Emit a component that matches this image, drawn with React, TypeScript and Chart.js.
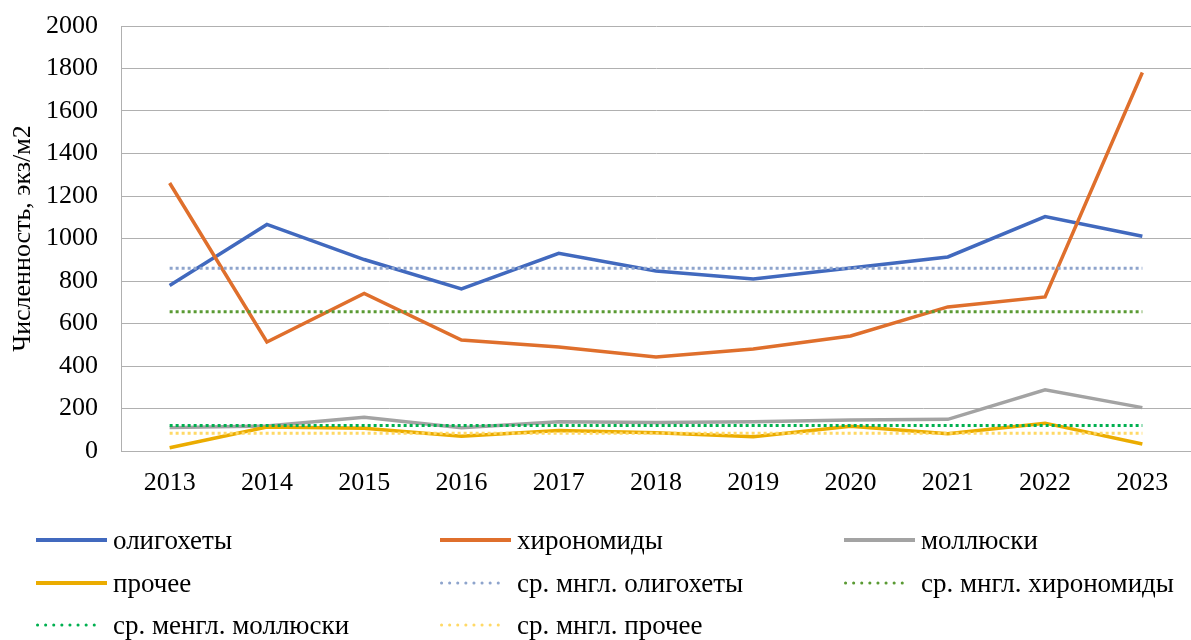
import React, { useEffect, useRef } from "react";
import { Chart, registerables } from "chart.js";

Chart.register(...registerables);

const years = ["2013", "2014", "2015", "2016", "2017", "2018", "2019", "2020", "2021", "2022", "2023"];
const oligochaetes = [779, 1066, 901, 763, 930, 847, 809, 861, 913, 1103, 1011];
const chironomids = [1261, 513, 742, 522, 489, 442, 480, 541, 678, 725, 1781];
const molluscs = [110, 118, 159, 110, 138, 134, 138, 146, 149, 288, 204];
const other = [15, 113, 107, 70, 97, 86, 67, 116, 81, 131, 33];
const meanOligochaetes = [860, 860, 860, 860, 860, 860, 860, 860, 860, 860, 860];
const meanChironomids = [655, 655, 655, 655, 655, 655, 655, 655, 655, 655, 655];
const meanMolluscs = [120, 120, 120, 120, 120, 120, 120, 120, 120, 120, 120];
const meanOther = [84, 84, 84, 84, 84, 84, 84, 84, 84, 84, 84];

const seriesLabels = [
  "олигохеты",
  "хирономиды",
  "моллюски",
  "прочее",
  "ср. мнгл. олигохеты",
  "ср. мнгл. хирономиды",
  "ср. менгл. моллюски",
  "ср. мнгл. прочее",
];
const seriesData = [oligochaetes, chironomids, molluscs, other, meanOligochaetes, meanChironomids, meanMolluscs, meanOther];
const seriesColors = ["#4169BE", "#DF6F2C", "#A3A3A3", "#EBAC00", "#8EA4CC", "#5A9A33", "#00B050", "#FFD966"];
const seriesDotted = [false, false, false, false, true, true, true, true];

const FONT = "'Liberation Serif', 'Times New Roman', serif";
const GRID = "#B0B0B0";

const legendCols = [36, 440, 844];
const legendRows = [540, 583, 625];

export default function App() {
  const canvasRef = useRef<HTMLCanvasElement>(null);

  useEffect(() => {
    document.body.style.margin = "0";
    const canvas = canvasRef.current;
    if (!canvas) return;
    const chart = new Chart(canvas, {
      type: "line",
      data: {
        labels: years,
        datasets: seriesLabels.map((label, i) => ({
          label,
          data: seriesData[i],
          borderColor: seriesColors[i],
          backgroundColor: seriesColors[i],
          borderWidth: seriesDotted[i] ? 3 : 3.5,
          borderDash: seriesDotted[i] ? [3, 3] : [],
          pointRadius: 0,
          pointHoverRadius: 0,
          fill: false,
          tension: 0,
          order: -i,
        })),
      },
      options: {
        responsive: false,
        animation: false,
        events: [],
        layout: { padding: { top: 26, left: 0, right: 0, bottom: 0 } },
        plugins: {
          legend: { display: false },
          tooltip: { enabled: false },
        },
        scales: {
          x: {
            offset: true,
            grid: { display: false, drawTicks: false },
            border: { display: true, color: GRID, width: 1 },
            ticks: {
              padding: 17,
              color: "#000",
              font: { family: FONT, size: 26 },
              maxRotation: 0,
              autoSkip: false,
            },
            afterFit: (scale: any) => {
              scale.height = 189;
              scale.paddingTop = 0;
              scale.paddingBottom = 0;
            },
          },
          y: {
            min: 0,
            max: 2000,
            grid: { color: GRID, lineWidth: 1, drawTicks: false },
            border: { display: true, color: GRID, width: 1 },
            ticks: {
              stepSize: 200,
              padding: 23,
              color: "#000",
              font: { family: FONT, size: 26 },
              callback: (value: any) => String(value),
            },
            title: {
              display: true,
              text: "Численность, экз/м2",
              color: "#000",
              font: { family: FONT, size: 26 },
              padding: { top: 8, bottom: 0 },
            },
            afterFit: (scale: any) => {
              scale.width = 121;
              scale.paddingTop = 0;
              scale.paddingBottom = 0;
            },
          },
        },
      },
    });
    return () => chart.destroy();
  }, []);

  return (
    <div style={{ position: "absolute", left: 0, top: 0, width: 1191, height: 640, background: "#fff", overflow: "hidden" }}>
      <canvas ref={canvasRef} width={1191} height={640} style={{ display: "block" }} />
      {seriesLabels.map((label, i) => {
        const col = i % 3;
        const row = Math.floor(i / 3);
        const dotted = seriesDotted[i];
        const w = dotted ? 66 : 71;
        return (
          <div
            key={label}
            style={{
              position: "absolute",
              left: legendCols[col],
              top: legendRows[row] - 20,
              height: 40,
              display: "flex",
              alignItems: "center",
              whiteSpace: "nowrap",
              fontFamily: FONT,
              fontSize: 27,
              color: "#000",
            }}
          >
            <svg width={71} height={8} style={{ display: "block" }}>
              <line
                x1={dotted ? 1.5 : 0}
                y1={4}
                x2={w}
                y2={4}
                stroke={seriesColors[i]}
                strokeWidth={dotted ? 3 : 4}
                strokeDasharray={dotted ? "0.1 8" : undefined}
                strokeLinecap={dotted ? "round" : "butt"}
              />
            </svg>
            <span style={{ marginLeft: 6 }}>{label}</span>
          </div>
        );
      })}
    </div>
  );
}
